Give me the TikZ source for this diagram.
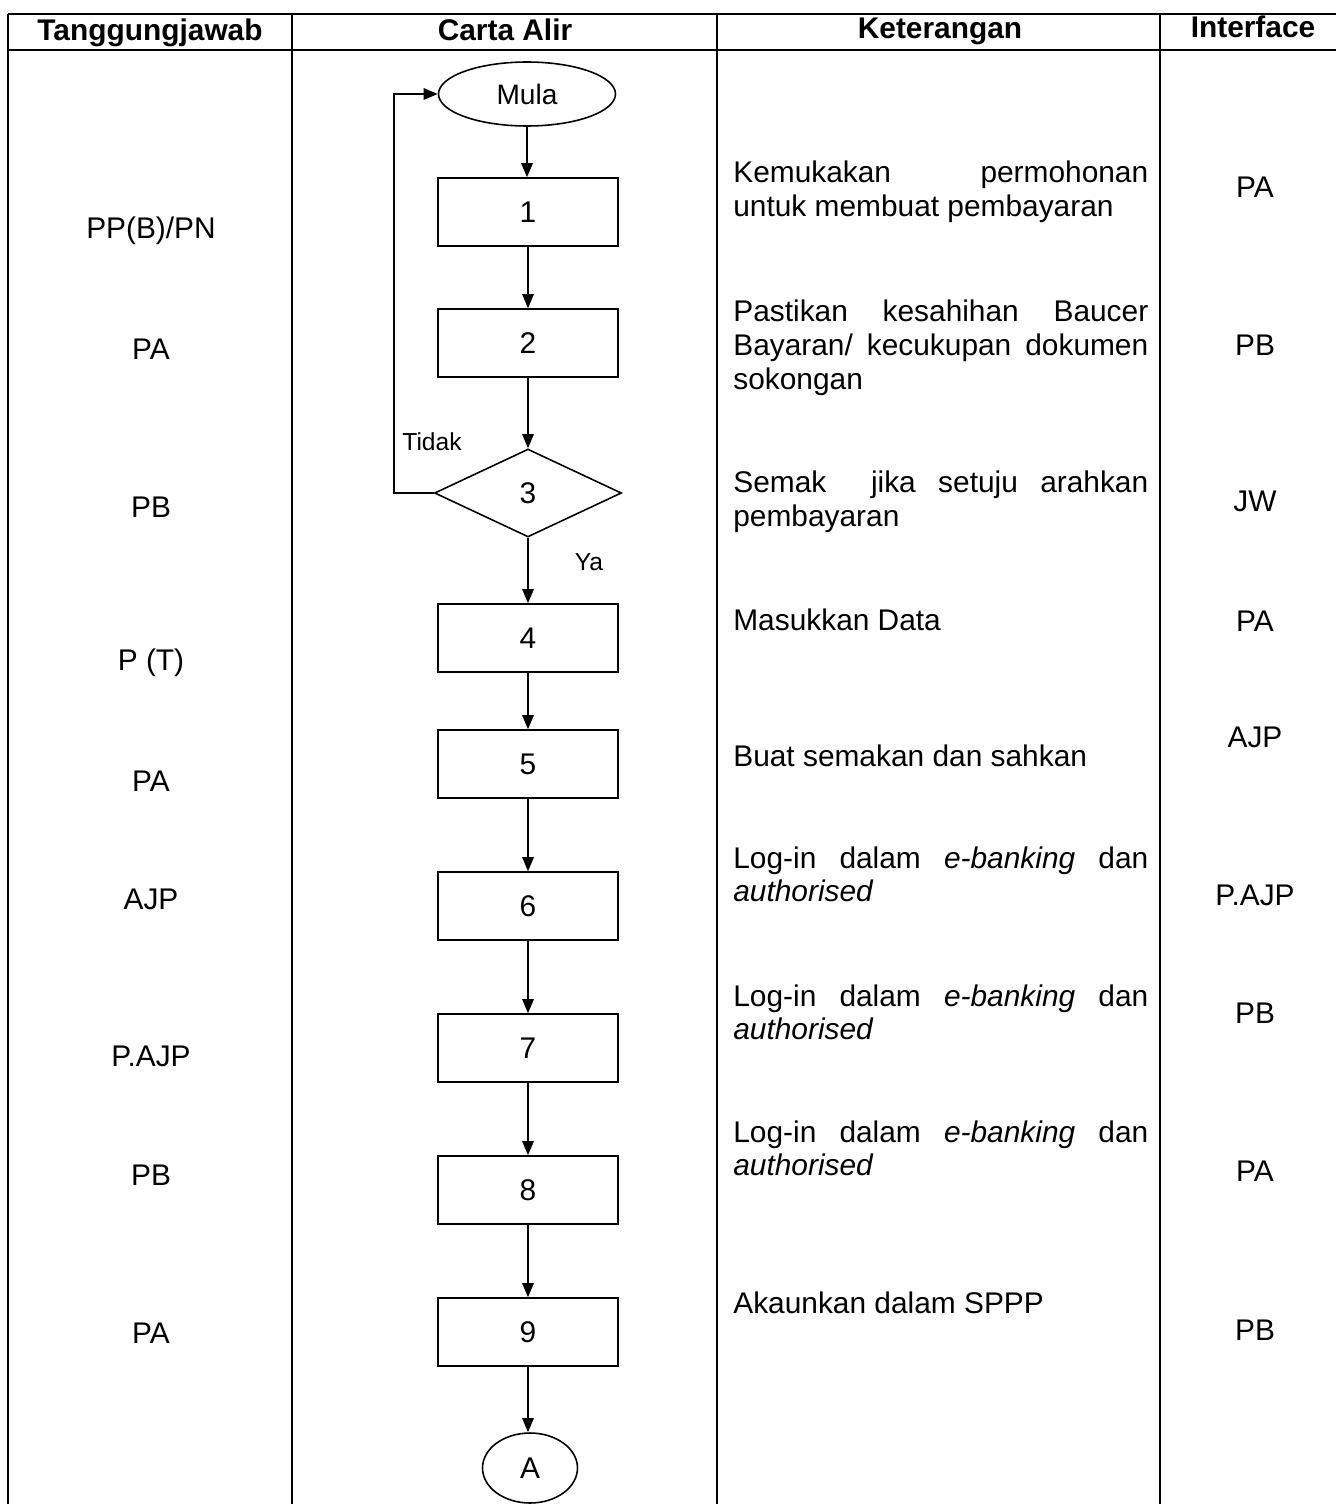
\documentclass[tikz,border=0pt]{standalone}
\usepackage{fontspec}
\setmainfont{Liberation Sans}
\usetikzlibrary{shapes.geometric,arrows.meta}

\begin{document}
\begin{tikzpicture}[x=0.02cm,y=-0.02cm,
        teks/.style={font=\fontsize{17}{19.3}\selectfont},
        kecil/.style={font=\fontsize{14}{16}\selectfont},
        kepala/.style={font=\fontsize{17}{19.3}\selectfont\bfseries,anchor=base},
        kotak/.style={draw,line width=0.9pt,minimum width=3.6cm,minimum height=1.36cm,teks},
        terminal/.style={draw,ellipse,line width=0.9pt,inner sep=0pt,font=\fontsize{16}{18}\selectfont},
        pilih/.style={draw,diamond,line width=0.9pt,inner sep=0pt,minimum width=3.74cm,minimum height=1.76cm,teks},
        ket/.style={teks,anchor=north west,inner sep=0pt,text width=8.3cm,align=justify},
        panah/.style={-{Triangle[length=8pt,width=6.5pt]},line width=1pt}]
        \useasboundingbox (0,0) rectangle (1336,1504);
        %jadual
        \draw[line width=0.8pt] (8,14) -- (1336,14) (8,50) -- (1336,50);
        \foreach \x in {8,292,717,1160} {
        \draw[line width=0.8pt] (\x,14) -- (\x,1504);}
        \node[kepala] (h1) at (150,41) {Tanggungjawab};
        \node[kepala] (h2) at (505,41) {Carta Alir};
        \node[kepala] (h3) at (940,39) {Keterangan};
        \node[kepala] (h4) at (1253,38) {Interface};
        %carta alir
        \node[terminal,minimum width=3.54cm,minimum height=1.28cm] (mula) at (527,94) {Mula};
        \foreach \n/\y in {1/212,2/343,4/638,5/764,6/906,7/1048,8/1190,9/1332} {
        \node[kotak] (b\n) at (528,\y) {\n};}
        \node[pilih] (b3) at (528,493) {3};
        \node[terminal,minimum width=1.9cm,minimum height=1.4cm,teks] (a) at (530,1468) {A};
        \draw[panah] (mula) -- (mula |- b1.north);
        \foreach \p/\q in {1/2,2/3,3/4,4/5,5/6,6/7,7/8,8/9} {
        \draw[panah] (b\p) -- (b\p |- b\q.north);}
        \draw[panah] (b9) -- (b9 |- a.north);
        \draw[panah] (b3.west) -- ++(-40,0) |- (mula.west);
        \node[kecil] (tidak) at (432,442) {Tidak};
        \node[kecil] (ya) at (589,562) {Ya};
        %tanggungjawab
        \foreach \y/\t [count=\i] in {231/{PP(B)/PN},349/PA,507/PB,663/P (T),781/PA,899/AJP,1056/P.AJP,1175/PB,1333/PA} {
        \node[teks] (tj\i) at (151,\y) {\t};}
        %interface
        \foreach \y/\t [count=\i] in {187/PA,345/PB,501/JW,621/PA,737/AJP,895/P.AJP,1013/PB,1171/PA,1330/PB} {
        \node[teks] (if\i) at (1255,\y) {\t};}
        %keterangan
        \node[ket] (k1) at (733,161) {Kemukakan permohonan\linebreak untuk membuat pembayaran};
        \node[ket] (k2) at (733,300) {Pastikan kesahihan Baucer\linebreak Bayaran/ kecukupan dokumen\linebreak sokongan};
        \node[ket] (k3) at (733,471) {Semak\ \ jika setuju arahkan\linebreak pembayaran};
        \node[ket] (k4) at (733,608) {Masukkan Data};
        \node[ket] (k5) at (733,744) {Buat semakan dan sahkan};
        \foreach \y [count=\i from 6] in {846,984,1120} {
        \node[ket] (k\i) at (733,\y) {Log-in dalam \emph{e-banking} dan\linebreak \emph{authorised}};}
        \node[ket] (k9) at (733,1291) {Akaunkan dalam SPPP};
\end{tikzpicture}
\end{document}
